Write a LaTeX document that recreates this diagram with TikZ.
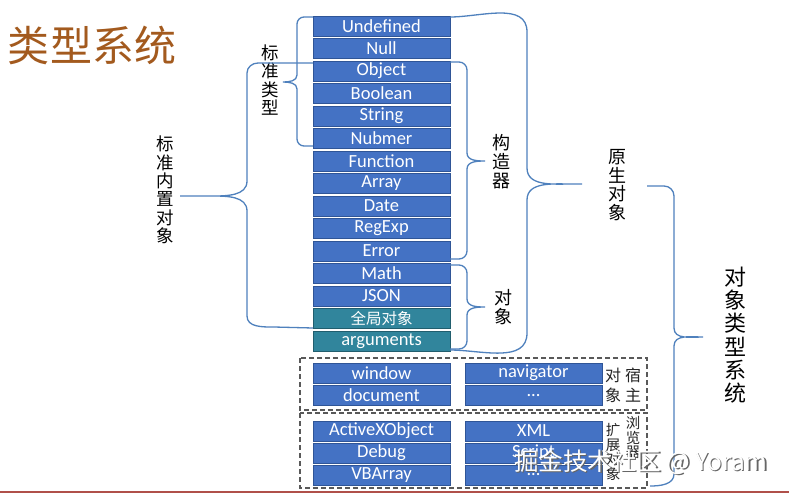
\documentclass[tikz,border=0pt]{standalone}
\usepackage{fontspec}
\setmainfont{Carlito}
\newfontfamily\cjk{Noto Sans CJK SC}
\definecolor{boxblue}{HTML}{4472C4}
\definecolor{boxedge}{HTML}{2F5597}
\definecolor{boxteal}{HTML}{31859C}
\definecolor{tealedge}{HTML}{215E6E}
\definecolor{bracecol}{HTML}{4F81BD}
\definecolor{titlecol}{HTML}{A35A1E}
\definecolor{dashcol}{HTML}{595959}
\definecolor{redline}{HTML}{B0504A}
\tikzset{
  bbox/.style={rectangle, fill=boxblue, draw=boxedge, line width=0.6pt, minimum width=137pt, minimum height=20pt, inner sep=0pt, text=white, font=\fontsize{18.5}{19}\selectfont},
  tbox/.style={bbox, fill=boxteal, draw=tealedge},
  brace/.style={draw=bracecol, line width=1.3pt},
  grp/.style={draw=dashcol, line width=1.3pt, dash pattern=on 5pt off 3pt},
  vlab/.style={align=center, inner sep=0pt, text=black, font=\cjk\fontsize{17.5}{18.4}\selectfont},
  slab/.style={align=center, inner sep=0pt, text=black!85, font=\cjk\fontsize{16}{20}\selectfont},
  tlab/.style={align=center, inner sep=0pt, text=black!85, font=\cjk\fontsize{14.5}{14.8}\selectfont},
}
\begin{document}
\begin{tikzpicture}[x=1pt,y=-1pt]
\useasboundingbox (0,0) rectangle (789,493);
\fill[white] (0,0) rectangle (789,493);
\fill[redline] (0,490.5) rectangle (789,493);

% title
\node[text=titlecol, font=\cjk\fontsize{42}{42}\selectfont, inner sep=0pt] (title) at (92,45) {类型系统};

% main column
\node[bbox] (undef) at (381.5,26) {Undefined};
\node[bbox] (null) at (381.5,48.5) {Null};
\node[bbox] (object) at (381.5,71) {Object};
\node[bbox] (boolean) at (381.5,93.5) {Boolean};
\node[bbox] (string) at (381.5,116) {String};
\node[bbox] (nubmer) at (381.5,138.5) {Nubmer};
\node[bbox] (function) at (381.5,161) {Function};
\node[bbox] (array) at (381.5,183.5) {Array};
\node[bbox] (date) at (381.5,206) {Date};
\node[bbox] (regexp) at (381.5,228.5) {RegExp};
\node[bbox] (error) at (381.5,251) {Error};
\node[bbox] (math) at (381.5,273.5) {Math};
\node[bbox] (json) at (381.5,296) {JSON};
\node[tbox, font=\cjk\fontsize{15.5}{16}\selectfont] (global) at (381.5,318.5) {全局对象};
\node[tbox] (arguments) at (381.5,341) {arguments};

% host objects group
\draw[grp] (300,358) rectangle (647,410);
\node[bbox] (window) at (381.5,373) {window};
\node[bbox] (document) at (381.5,395.5) {document};
\node[bbox] (navigator) at (533.5,373) {navigator};
\node[bbox] (dots1) at (533.5,395.5) {...};
\node[slab] (hostA) at (613,385) {对\\象};
\node[slab] (hostB) at (633,385) {宿\\主};

% browser extension group
\draw[grp] (300,413) rectangle (647,488);
\node[bbox] (activex) at (381.5,431) {ActiveXObject};
\node[bbox] (debug) at (381.5,453) {Debug};
\node[bbox] (vbarray) at (381.5,475) {VBArray};
\node[bbox] (xml) at (533.5,431) {XML};
\node[bbox] (script) at (533.5,453) {Script};
\node[bbox] (dots2) at (533.5,475) {...};
\node[tlab] (extA) at (613,452) {扩\\展\\对\\象};
\node[tlab] (extB) at (633,437.5) {浏\\览\\器};

% braces
% 标准类型
\draw[brace] (313,17) -- (304,17) to[out=180,in=90] (297,24) -- (297,75) to[out=-90,in=0] (283,82)
  to[out=0,in=90] (297,89) -- (297,139) to[out=-90,in=180] (304,146) -- (313,146);
\node[vlab] (stdtype) at (270,80) {标\\准\\类\\型};

% 标准内置对象
\draw[brace] (313,63) -- (258,63) to[out=180,in=90] (247,73) -- (247,181) to[out=-90,in=0] (212,196) -- (180,196)
  -- (212,196) to[out=0,in=90] (247,211) -- (247,316) to[out=-90,in=180] (274,327) -- (313,328);
\node[vlab] (stdbuiltin) at (165,190) {标\\准\\内\\置\\对\\象};

% 构造器
\draw[brace] (450,62) -- (459,62) to[out=0,in=90] (467,70) -- (467,153) to[out=-90,in=180] (485,161)
  to[out=180,in=90] (467,169) -- (467,251) to[out=-90,in=0] (459,259) -- (450,259);
\node[vlab, font=\cjk\fontsize{18}{19}\selectfont] (ctor) at (501,162) {构\\造\\器};

% 对象
\draw[brace] (450,265) -- (459,265) to[out=0,in=90] (467,273) -- (467,299) to[out=-90,in=180] (485,307)
  to[out=180,in=90] (467,315) -- (467,341) to[out=-90,in=0] (459,349) -- (450,349);
\node[vlab, font=\cjk\fontsize{18}{19}\selectfont] (obj) at (503,307) {对\\象};

% 原生对象
\draw[brace] (450,17) to[out=0,in=90] (527,32) -- (527,168) to[out=-90,in=180] (572,184) -- (582,184)
  -- (572,184) to[out=180,in=90] (527,200) -- (527,333) to[out=-90,in=0] (450,350);
\node[vlab, font=\cjk\fontsize{18}{18.6}\selectfont] (native) at (617,185) {原\\生\\对\\象};

% 对象类型系统
\draw[brace] (647,186) -- (664,186) to[out=0,in=90] (674,196) -- (674,328) to[out=-90,in=180] (703,337)
  to[out=180,in=90] (674,346) -- (674,474) to[out=-90,in=0] (650,486);
\node[vlab, font=\cjk\fontsize{22}{23.3}\selectfont] (typesys) at (735,335) {对\\象\\类\\型\\系\\统};

% watermark
\node[text=black!60, font=\cjk\fontsize{24.5}{25}\selectfont, inner sep=0pt] (wmshadow) at (642.2,463.2) {掘金技术社区 @ Yoram};
\node[text=white, font=\cjk\fontsize{24.5}{25}\selectfont, inner sep=0pt] (wm) at (641,462) {掘金技术社区 @ Yoram};
\end{tikzpicture}
\end{document}
